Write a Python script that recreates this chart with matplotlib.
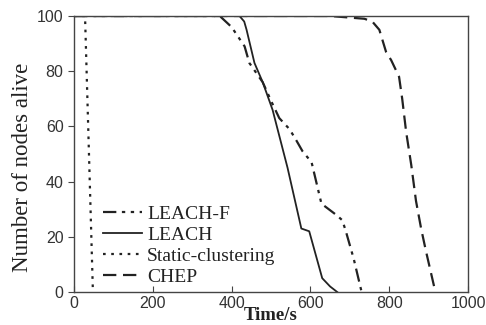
import matplotlib
matplotlib.use("Agg")
import matplotlib.pyplot as plt

# Data
leach_f_t = [0, 370, 400, 433, 445, 479, 501, 521, 547, 564, 580, 603, 628, 665, 681, 690, 710, 730]
leach_f_n = [100, 100, 96, 89, 83, 76, 69, 63, 59, 55, 51, 47, 32, 28, 26, 22, 12, 0]

leach_t = [0, 420, 432, 438, 458, 479, 504, 542, 577, 597, 630, 650, 668]
leach_n = [100, 100, 98, 95, 83, 76, 66, 45, 23, 22, 5, 2, 0]

static_t = [0, 28, 38, 48]
static_n = [100, 100, 50, 0]

chep_t = [0, 650, 737, 757, 775, 792, 805, 825, 833, 843, 856, 868, 881, 893, 914, 920]
chep_n = [100, 100, 99, 98, 95, 87, 84, 78, 70, 58, 46, 33, 23, 15, 2, 0]

xticks = [0, 200, 400, 600, 800, 1000]
yticks = [0, 20, 40, 60, 80, 100]

fig = plt.figure(figsize=(4.86, 3.25), dpi=100)
ax = fig.add_axes([74 / 486, 1 - 292 / 325, 394 / 486, 276 / 325])

c = "#222222"
ax.plot(leach_f_t, leach_f_n, color=c, lw=1.6, dashes=[6, 2.5, 1.5, 2.5, 1.5, 2.5], label="LEACH-F")
ax.plot(leach_t, leach_n, color=c, lw=1.3, label="LEACH")
ax.plot(static_t, static_n, color=c, lw=1.6, linestyle=(0, (1.2, 2.5)), label="Static-clustering")
ax.plot(chep_t, chep_n, color=c, lw=1.6, dashes=[6, 3], label="CHEP")

ax.set_xlim(0, 1000)
ax.set_ylim(0, 100)
ax.set_xticks(xticks)
ax.set_yticks(yticks)
for sp in ax.spines.values():
    sp.set_color("#444444")
    sp.set_linewidth(1.0)
ax.tick_params(axis="x", direction="in", length=4, colors="#444444", labelcolor="#333333", pad=3)
ax.tick_params(axis="y", direction="out", length=4, colors="#444444", labelcolor="#333333")
for lab in ax.get_xticklabels() + ax.get_yticklabels():
    lab.set_family("Liberation Sans")
    lab.set_fontsize(11.5)

ax.set_xlabel("Time/s", family="Liberation Serif", fontsize=13.5, fontweight="bold",
              color="#222222", labelpad=-3)
ax.set_ylabel("Number of nodes alive", family="Liberation Serif", fontsize=16.5,
              color="#222222")
ax.yaxis.set_label_coords(-0.105, 0.453)

leg = ax.legend(loc="lower left", bbox_to_anchor=(0.045, -0.02), frameon=False,
                prop={"family": "Liberation Serif", "size": 14},
                handlelength=2.0, handletextpad=0.25, labelspacing=0.18, borderaxespad=0.2)
for t in leg.get_texts():
    t.set_color("#222222")

fig.savefig("out.png", dpi=100)
